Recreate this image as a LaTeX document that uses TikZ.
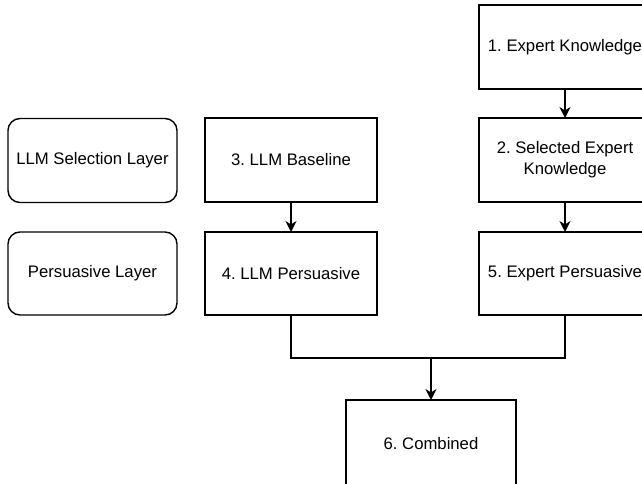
\documentclass[tikz,border=0pt]{standalone}
\usepackage{fontspec}
\setmainfont{Liberation Sans}
\usetikzlibrary{arrows.meta}
\frenchspacing
\begin{document}
\begin{tikzpicture}[x=1pt,y=-1pt,
  every node/.style={font=\fontsize{16.7}{21}\selectfont},
  box/.style={draw, line width=1.4pt, minimum width=172pt, minimum height=84pt, inner sep=0pt, outer sep=0pt, align=center},
  layerbox/.style={box, rounded corners=12pt, minimum width=169pt},
  link/.style={line width=1.4pt},
  arrow/.style={link, -{Stealth[length=11pt,width=11pt,inset=3.5pt]}}]
\useasboundingbox (0,0) rectangle (642,484);
\node[box] (b1) at (565,47) {1. Expert Knowledge};
\node[box] (b2) at (565,160) {2. Selected Expert\\Knowledge};
\node[box, minimum height=83pt] (b5) at (565,273.5) {5. Expert Persuasive};
\node[box] (b3) at (291,160) {3. LLM Baseline};
\node[box, minimum height=83pt] (b4) at (291,273.5) {4. LLM Persuasive};
\node[layerbox] (l1) at (92.5,160.5) {LLM Selection Layer};
\node[layerbox, minimum height=83pt] (l2) at (92.5,273.5) {Persuasive Layer};
\node[box, minimum width=170pt, minimum height=90pt] (b6) at (431,445) {\raisebox{3pt}{6. Combined}};
\coordinate (m) at (431,358);
\draw[arrow] (b1) -- (b2);
\draw[arrow] (b2) -- (b5);
\draw[arrow] (b3) -- (b4);
\draw[link] (b4.south) |- (m) -| (b5.south);
\draw[arrow] (m) -- (b6.north);
\end{tikzpicture}
\end{document}
